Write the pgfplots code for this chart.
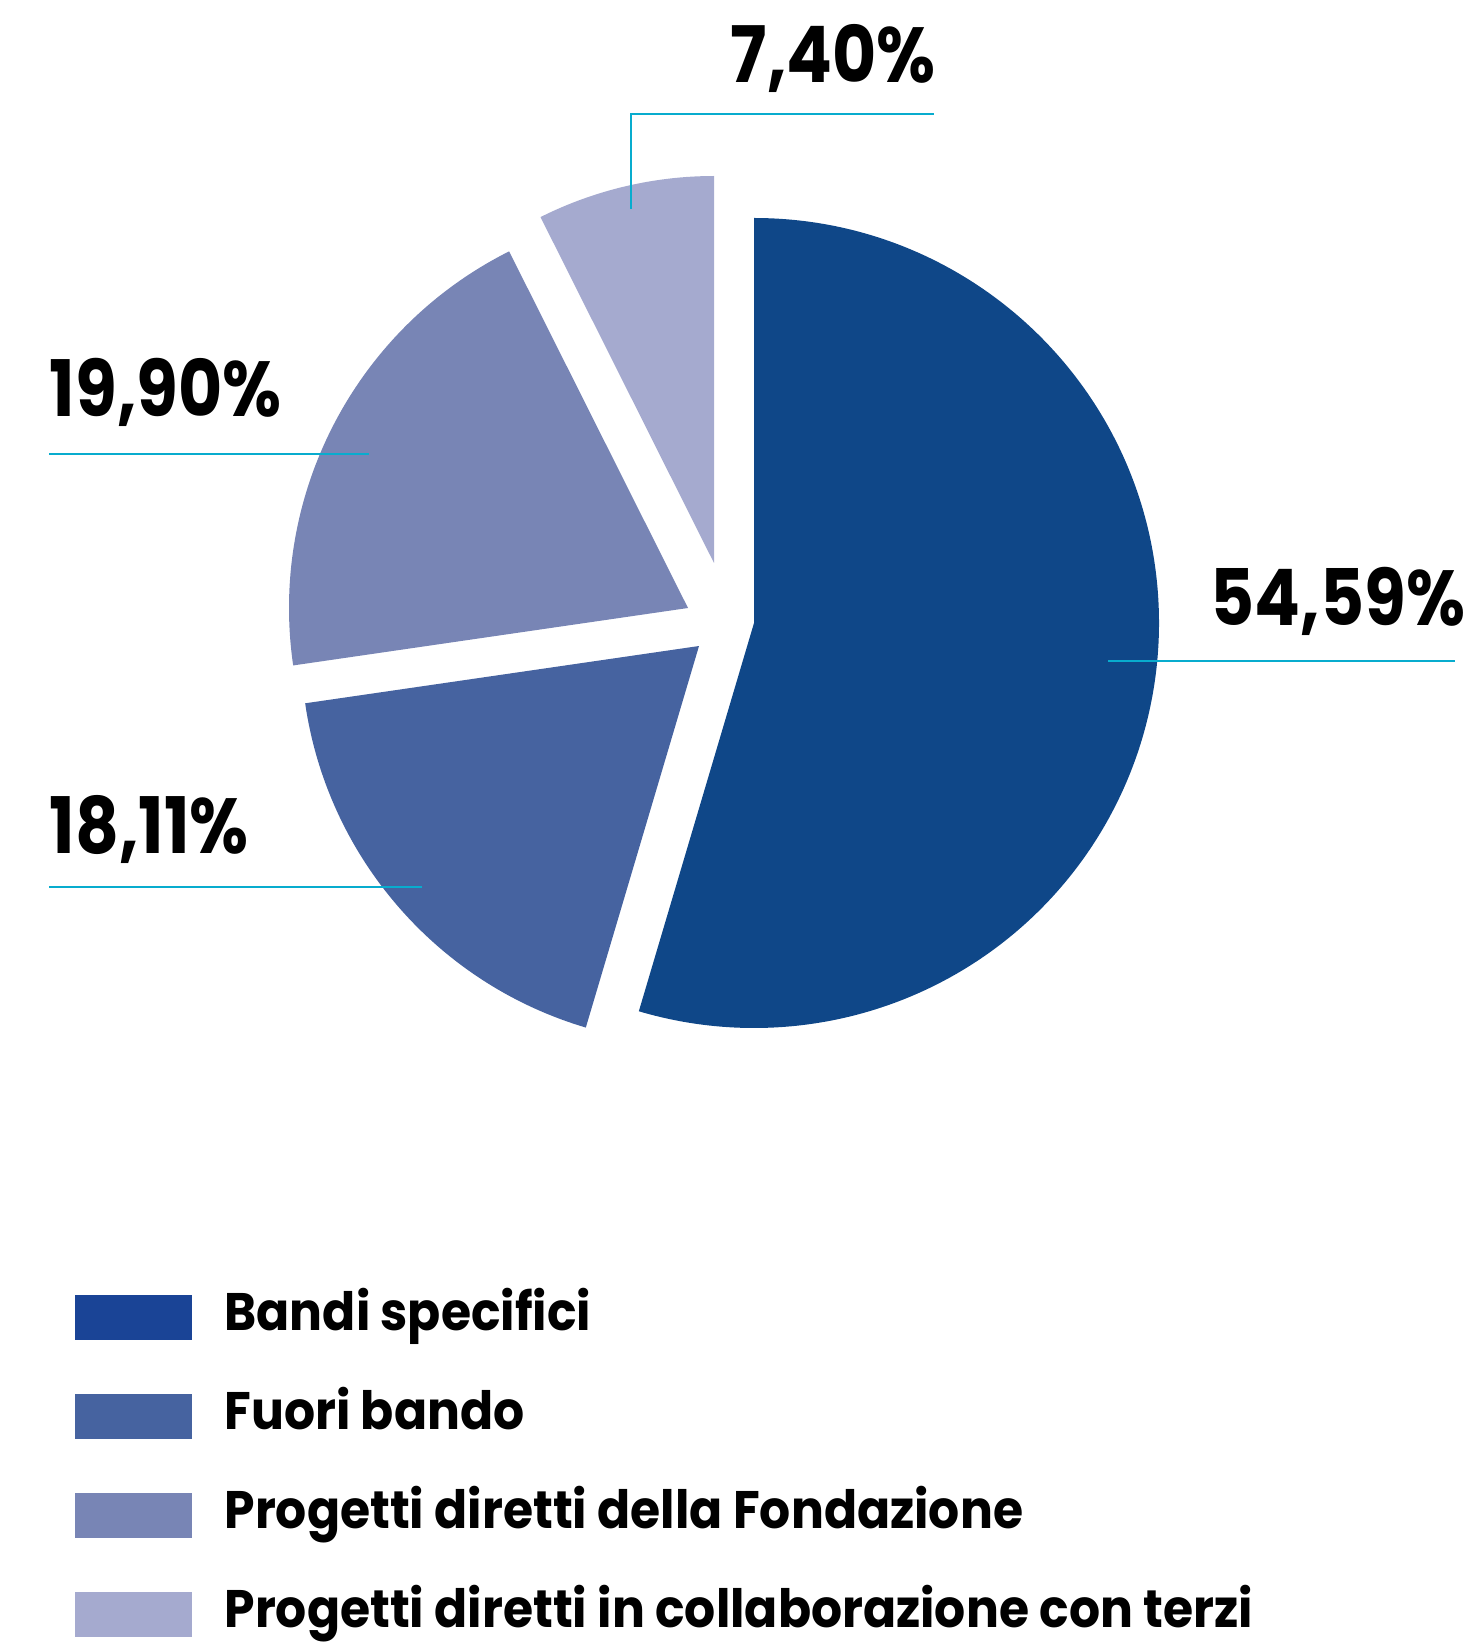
\documentclass[border=0pt]{standalone}
\usepackage{fontspec}
\setmainfont{Poppins}[FakeStretch=0.925]
\newfontfamily\labfont{Poppins}[FakeStretch=0.87]
\usepackage{pgfplots}
\pgfplotsset{compat=1.18}

\definecolor{bandi}{RGB}{15,71,136}
\definecolor{bandileg}{RGB}{26,68,150}
\definecolor{fuori}{RGB}{70,99,160}
\definecolor{fondaz}{RGB}{120,133,181}
\definecolor{terzi}{RGB}{165,170,207}
\definecolor{leader}{RGB}{8,172,206}

\newcommand{\lbl}{\labfont\bfseries\fontsize{19.5}{21}\selectfont}

\begin{document}
\begin{tikzpicture}
% shares (percent), clockwise from 12 o'clock
\def\pA{54.59}\def\pB{18.11}\def\pC{19.90}\def\pD{7.40}
\pgfmathsetmacro\aA{90-3.6*\pA}
\pgfmathsetmacro\aB{\aA-3.6*\pB}
\pgfmathsetmacro\aC{\aB-3.6*\pC}
\pgfmathsetmacro\aD{\aC-3.6*\pD}
\begin{axis}[
    x=0.25pt, y=0.25pt, y dir=reverse,
    xmin=0, xmax=1465, ymin=0, ymax=1646,
    axis line style={draw=none},
    xtick=\empty, ytick=\empty,
    clip=false,
    legend cell align=left,
    legend style={at={(axis cs:75,1290)}, anchor=north west,
        draw=none, fill=none, inner sep=0pt, outer sep=0pt,
        row sep=11.75pt, column sep=8.25pt,
        font=\bfseries\fontsize{13.2}{15}\selectfont,
        nodes={inner sep=0pt, text height=10pt, text depth=3pt}},
]
% exploded slices
\fill[bandi]  (axis cs:754,623) -- ++(90:101.25pt)  arc[start angle=90,  end angle=\aA, radius=101.25pt] -- cycle;
\fill[fuori]  (axis cs:699,646) -- ++(\aA:99.5pt)   arc[start angle=\aA, end angle=\aB, radius=99.5pt] -- cycle;
\fill[fondaz] (axis cs:688,608) -- ++(\aB:99.75pt)  arc[start angle=\aB, end angle=\aC, radius=99.75pt] -- cycle;
\fill[terzi]  (axis cs:714,563) -- ++(\aC:96.75pt)  arc[start angle=\aC, end angle=\aD, radius=96.75pt] -- cycle;

% leader lines
\addplot[leader, line width=0.6pt, forget plot] coordinates {(631,209) (631,114) (934,114)};
\addplot[leader, line width=0.6pt, forget plot] coordinates {(49,454) (369,454)};
\addplot[leader, line width=0.6pt, forget plot] coordinates {(1108,661) (1455,661)};
\addplot[leader, line width=0.6pt, forget plot] coordinates {(49,887) (422,887)};

% value labels
\node[anchor=base west, font=\lbl, inner sep=0pt] at (axis cs:730,83)  {7,40\%};
\node[anchor=base west, font=\lbl, inner sep=0pt] at (axis cs:49,417)  {19,90\%};
\node[anchor=base west, font=\lbl, inner sep=0pt] at (axis cs:1210,626) {54,59\%};
\node[anchor=base west, font=\lbl, inner sep=0pt] at (axis cs:49,853)  {18,11\%};

% legend (cells are west-anchored: text baseline sits 3.5pt below the cell origin)
\addlegendimage{legend image code/.code={\fill[bandileg] (0pt,-5.75pt) rectangle (28.75pt,5pt);}}
\addlegendentry{Bandi specifici}
\addlegendimage{legend image code/.code={\fill[fuori] (0pt,-5.75pt) rectangle (28.75pt,5pt);}}
\addlegendentry{Fuori bando}
\addlegendimage{legend image code/.code={\fill[fondaz] (0pt,-5.75pt) rectangle (28.75pt,5pt);}}
\addlegendentry{Progetti diretti della Fondazione}
\addlegendimage{legend image code/.code={\fill[terzi] (0pt,-5.75pt) rectangle (28.75pt,5pt);}}
\addlegendentry{Progetti diretti in collaborazione con terzi}
\end{axis}
\end{tikzpicture}
\end{document}
